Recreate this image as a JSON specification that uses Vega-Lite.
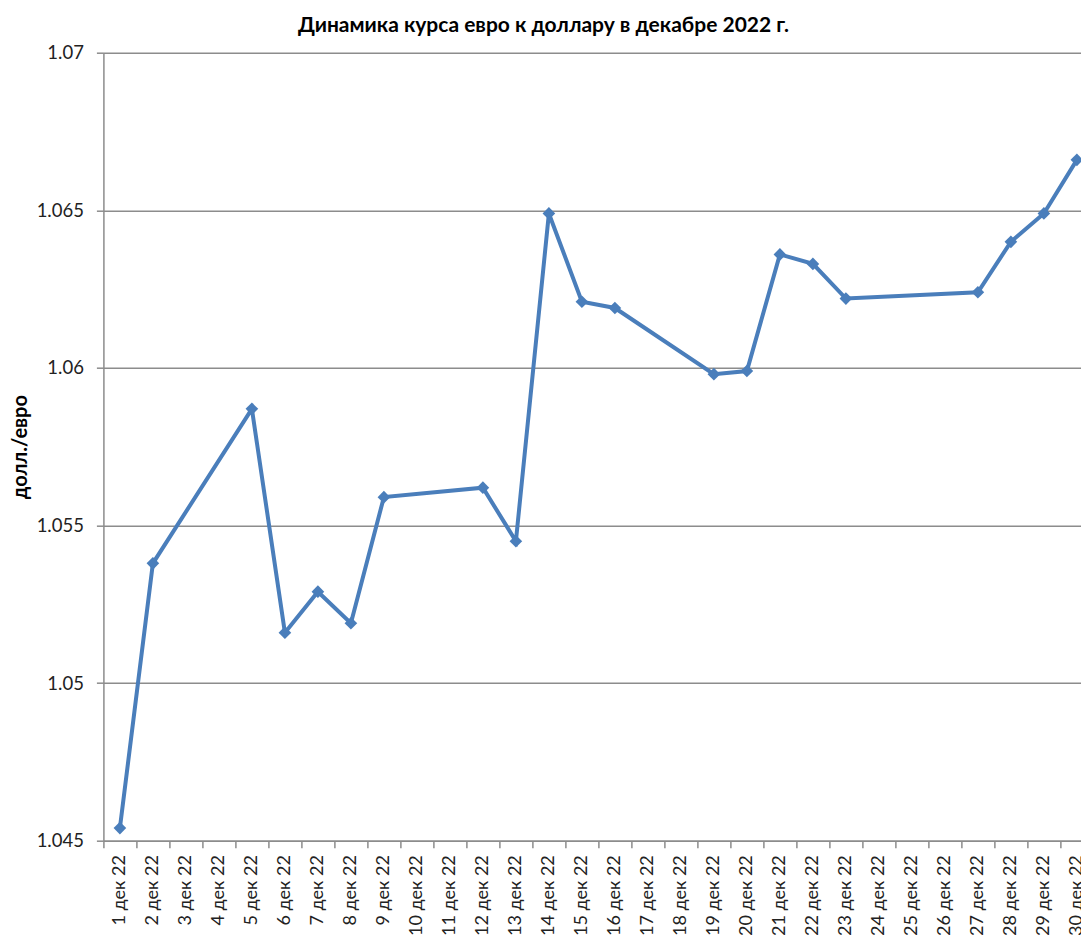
{
  "$schema": "https://vega.github.io/schema/vega-lite/v6.json",
  "autosize": {"type": "none"},
  "padding": {"left": 103.4, "top": 52.7, "right": 0, "bottom": 95},
  "width": 990,
  "height": 788,
  "background": "white",
  "title": {
    "text": "Динамика курса евро к доллару в декабре 2022 г.",
    "font": "Lato",
    "fontSize": 21,
    "fontWeight": "bold",
    "color": "#000000",
    "anchor": "middle",
    "dx": -55,
    "offset": 8
  },
  "config": {
    "view": {"stroke": null},
    "axis": {"labelFont": "Lato", "titleFont": "Lato"}
  },
  "data": {
    "values": [
      {"day": 1, "date": "1 дек 22", "rate": 1.0454},
      {"day": 2, "date": "2 дек 22", "rate": 1.0538},
      {"day": 5, "date": "5 дек 22", "rate": 1.0587},
      {"day": 6, "date": "6 дек 22", "rate": 1.0516},
      {"day": 7, "date": "7 дек 22", "rate": 1.0529},
      {"day": 8, "date": "8 дек 22", "rate": 1.0519},
      {"day": 9, "date": "9 дек 22", "rate": 1.0559},
      {"day": 12, "date": "12 дек 22", "rate": 1.0562},
      {"day": 13, "date": "13 дек 22", "rate": 1.0545},
      {"day": 14, "date": "14 дек 22", "rate": 1.0649},
      {"day": 15, "date": "15 дек 22", "rate": 1.0621},
      {"day": 16, "date": "16 дек 22", "rate": 1.0619},
      {"day": 19, "date": "19 дек 22", "rate": 1.0598},
      {"day": 20, "date": "20 дек 22", "rate": 1.0599},
      {"day": 21, "date": "21 дек 22", "rate": 1.0636},
      {"day": 22, "date": "22 дек 22", "rate": 1.0633},
      {"day": 23, "date": "23 дек 22", "rate": 1.0622},
      {"day": 27, "date": "27 дек 22", "rate": 1.0624},
      {"day": 28, "date": "28 дек 22", "rate": 1.064},
      {"day": 29, "date": "29 дек 22", "rate": 1.0649},
      {"day": 30, "date": "30 дек 22", "rate": 1.0666}
    ]
  },
  "encoding": {
    "x": {
      "field": "date",
      "type": "ordinal",
      "sort": null,
      "scale": {
        "type": "band",
        "paddingInner": 0,
        "paddingOuter": 0,
        "domain": ["1 дек 22", "2 дек 22", "3 дек 22", "4 дек 22", "5 дек 22", "6 дек 22", "7 дек 22", "8 дек 22", "9 дек 22", "10 дек 22", "11 дек 22", "12 дек 22", "13 дек 22", "14 дек 22", "15 дек 22", "16 дек 22", "17 дек 22", "18 дек 22", "19 дек 22", "20 дек 22", "21 дек 22", "22 дек 22", "23 дек 22", "24 дек 22", "25 дек 22", "26 дек 22", "27 дек 22", "28 дек 22", "29 дек 22", "30 дек 22"]
      },
      "axis": {
        "title": null,
        "bandPosition": 0,
        "labelAngle": -90,
        "labelAlign": "right",
        "labelBaseline": "middle",
        "labelFontSize": 18,
        "labelColor": "#222222",
        "labelPadding": 7,
        "labelOverlap": false,
        "tickSize": 7,
        "tickColor": "#8c8c8c",
        "tickWidth": 1.5,
        "domainColor": "#8c8c8c",
        "domainWidth": 1.5,
        "grid": false
      }
    },
    "y": {
      "field": "rate",
      "type": "quantitative",
      "scale": {"domain": [1.045, 1.07], "zero": false, "nice": false},
      "axis": {
        "title": "долл./евро",
        "titleFontSize": 20,
        "titleFontWeight": "bold",
        "titleColor": "#000000",
        "titlePadding": 6,
        "values": [1.045, 1.05, 1.055, 1.06, 1.065, 1.07],
        "format": "~f",
        "labelFontSize": 18.5,
        "labelColor": "#222222",
        "labelPadding": 13,
        "tickSize": 7,
        "tickColor": "#8c8c8c",
        "tickWidth": 1.5,
        "domainColor": "#8c8c8c",
        "domainWidth": 1.5,
        "grid": true,
        "gridColor": "#8c8c8c",
        "gridWidth": 1.5
      }
    },
    "order": {"field": "day", "type": "quantitative"}
  },
  "layer": [
    {"mark": {"type": "line", "color": "#4a7ebb", "strokeWidth": 4}},
    {"mark": {"type": "point", "shape": "diamond", "filled": true, "opacity": 1, "size": 160, "color": "#4a7ebb"}}
  ]
}
